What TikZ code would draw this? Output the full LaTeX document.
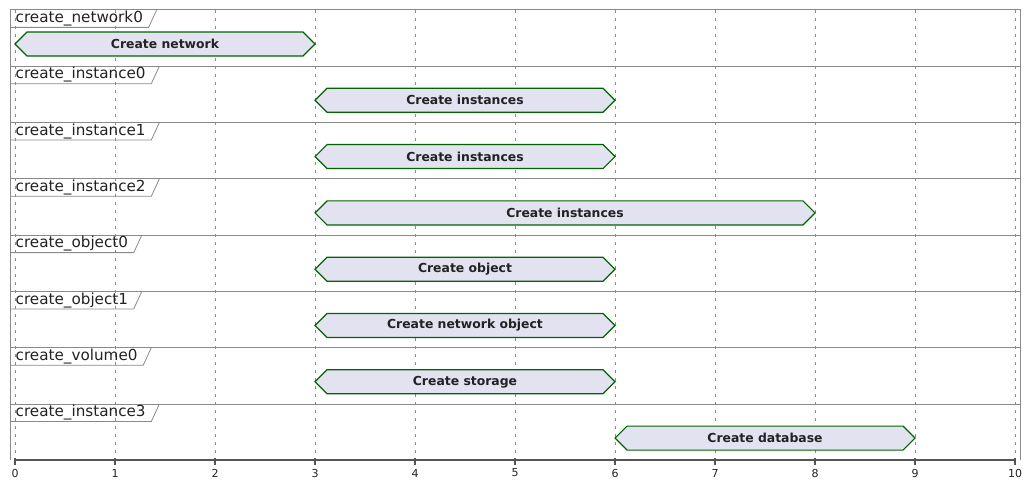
\documentclass[tikz,border=0pt]{standalone}
\usepackage{fontspec}
\setmainfont{DejaVu Sans}
\usetikzlibrary{shapes.symbols,positioning}
\definecolor{barfill}{HTML}{E2E2F0}
\definecolor{bargreen}{HTML}{006400}
\definecolor{gridgray}{HTML}{8A8A8A}
\definecolor{axisgray}{HTML}{555555}
\definecolor{textgray}{HTML}{222222}
\tikzset{
  phase/.style={draw=bargreen, fill=barfill, line width=1.2pt, signal, signal to=west and east, signal pointer angle=90, minimum height=24pt, inner sep=0pt, font=\fontsize{12.4}{14}\selectfont\bfseries, text=textgray},
  rowname/.style={anchor=north west, inner xsep=5.5pt, inner ysep=0pt, minimum height=17pt, font=\fontsize{15.2}{17}\selectfont, text=textgray},
  tab/.style={draw=gridgray, line width=0.8pt},
  timegrid/.style={draw=gridgray, dash pattern=on 3pt off 5pt, line width=0.6pt},
  frameline/.style={draw=gridgray, line width=1pt},
  timeaxis/.style={draw=axisgray, line width=2pt},
  ticklabel/.style={font=\fontsize{11}{12}\selectfont, text=textgray}
}

\begin{document}
\begin{tikzpicture}[x=1pt, y=-1pt]
    \useasboundingbox (0,0) rectangle (1033,489);
    % time scale
    \foreach \t in {0,...,10} {
      \draw[timegrid] (15+100*\t,10) -- (15+100*\t,460);
      \draw[timeaxis] (15+100*\t,458) -- (15+100*\t,465);
      \node[ticklabel] (t\t) at (15+100*\t,473) {\t};
    }
    \draw[timeaxis] (15,460) -- (1015,460);

    % frame and row separators
    \draw[frameline] (10,460) -- (10,10) -- (1020,10) -- (1020,460);
    \draw[frameline] (10,66.3) -- (1020,66.3);
    \draw[frameline] (10,122.6) -- (1020,122.6);
    \draw[frameline] (10,178.9) -- (1020,178.9);
    \draw[frameline] (10,235.2) -- (1020,235.2);
    \draw[frameline] (10,291.5) -- (1020,291.5);
    \draw[frameline] (10,347.8) -- (1020,347.8);
    \draw[frameline] (10,404.1) -- (1020,404.1);

    % row names
    \node[rowname] at (10,10) (net0) {create\_network0};
    \node[rowname] at (10,66.3) (inst0) {create\_instance0};
    \node[rowname] at (10,122.6) (inst1) {create\_instance1};
    \node[rowname] at (10,178.9) (inst2) {create\_instance2};
    \node[rowname] at (10,235.2) (obj0) {create\_object0};
    \node[rowname] at (10,291.5) (obj1) {create\_object1};
    \node[rowname] at (10,347.8) (vol0) {create\_volume0};
    \node[rowname] at (10,404.1) (inst3) {create\_instance3};
    \draw[tab] (net0.south west) -- (net0.south east) -- ([xshift=8pt]net0.north east);
    \draw[tab] (inst0.south west) -- (inst0.south east) -- ([xshift=8pt]inst0.north east);
    \draw[tab] (inst1.south west) -- (inst1.south east) -- ([xshift=8pt]inst1.north east);
    \draw[tab] (inst2.south west) -- (inst2.south east) -- ([xshift=8pt]inst2.north east);
    \draw[tab] (obj0.south west) -- (obj0.south east) -- ([xshift=8pt]obj0.north east);
    \draw[tab] (obj1.south west) -- (obj1.south east) -- ([xshift=8pt]obj1.north east);
    \draw[tab] (vol0.south west) -- (vol0.south east) -- ([xshift=8pt]vol0.north east);
    \draw[tab] (inst3.south west) -- (inst3.south east) -- ([xshift=8pt]inst3.north east);

    % phases
    \node[phase, minimum width=300pt] at (165,44) (p0) {Create network};
    \node[phase, minimum width=300pt] at (465,100.3) (p1) {Create instances};
    \node[phase, minimum width=300pt] at (465,156.6) (p2) {Create instances};
    \node[phase, minimum width=500pt] at (565,212.9) (p3) {Create instances};
    \node[phase, minimum width=300pt] at (465,269.2) (p4) {Create object};
    \node[phase, minimum width=300pt] at (465,325.5) (p5) {Create network object};
    \node[phase, minimum width=300pt] at (465,381.8) (p6) {Create storage};
    \node[phase, minimum width=300pt] at (765,438.1) (p7) {Create database};
\end{tikzpicture}
\end{document}
